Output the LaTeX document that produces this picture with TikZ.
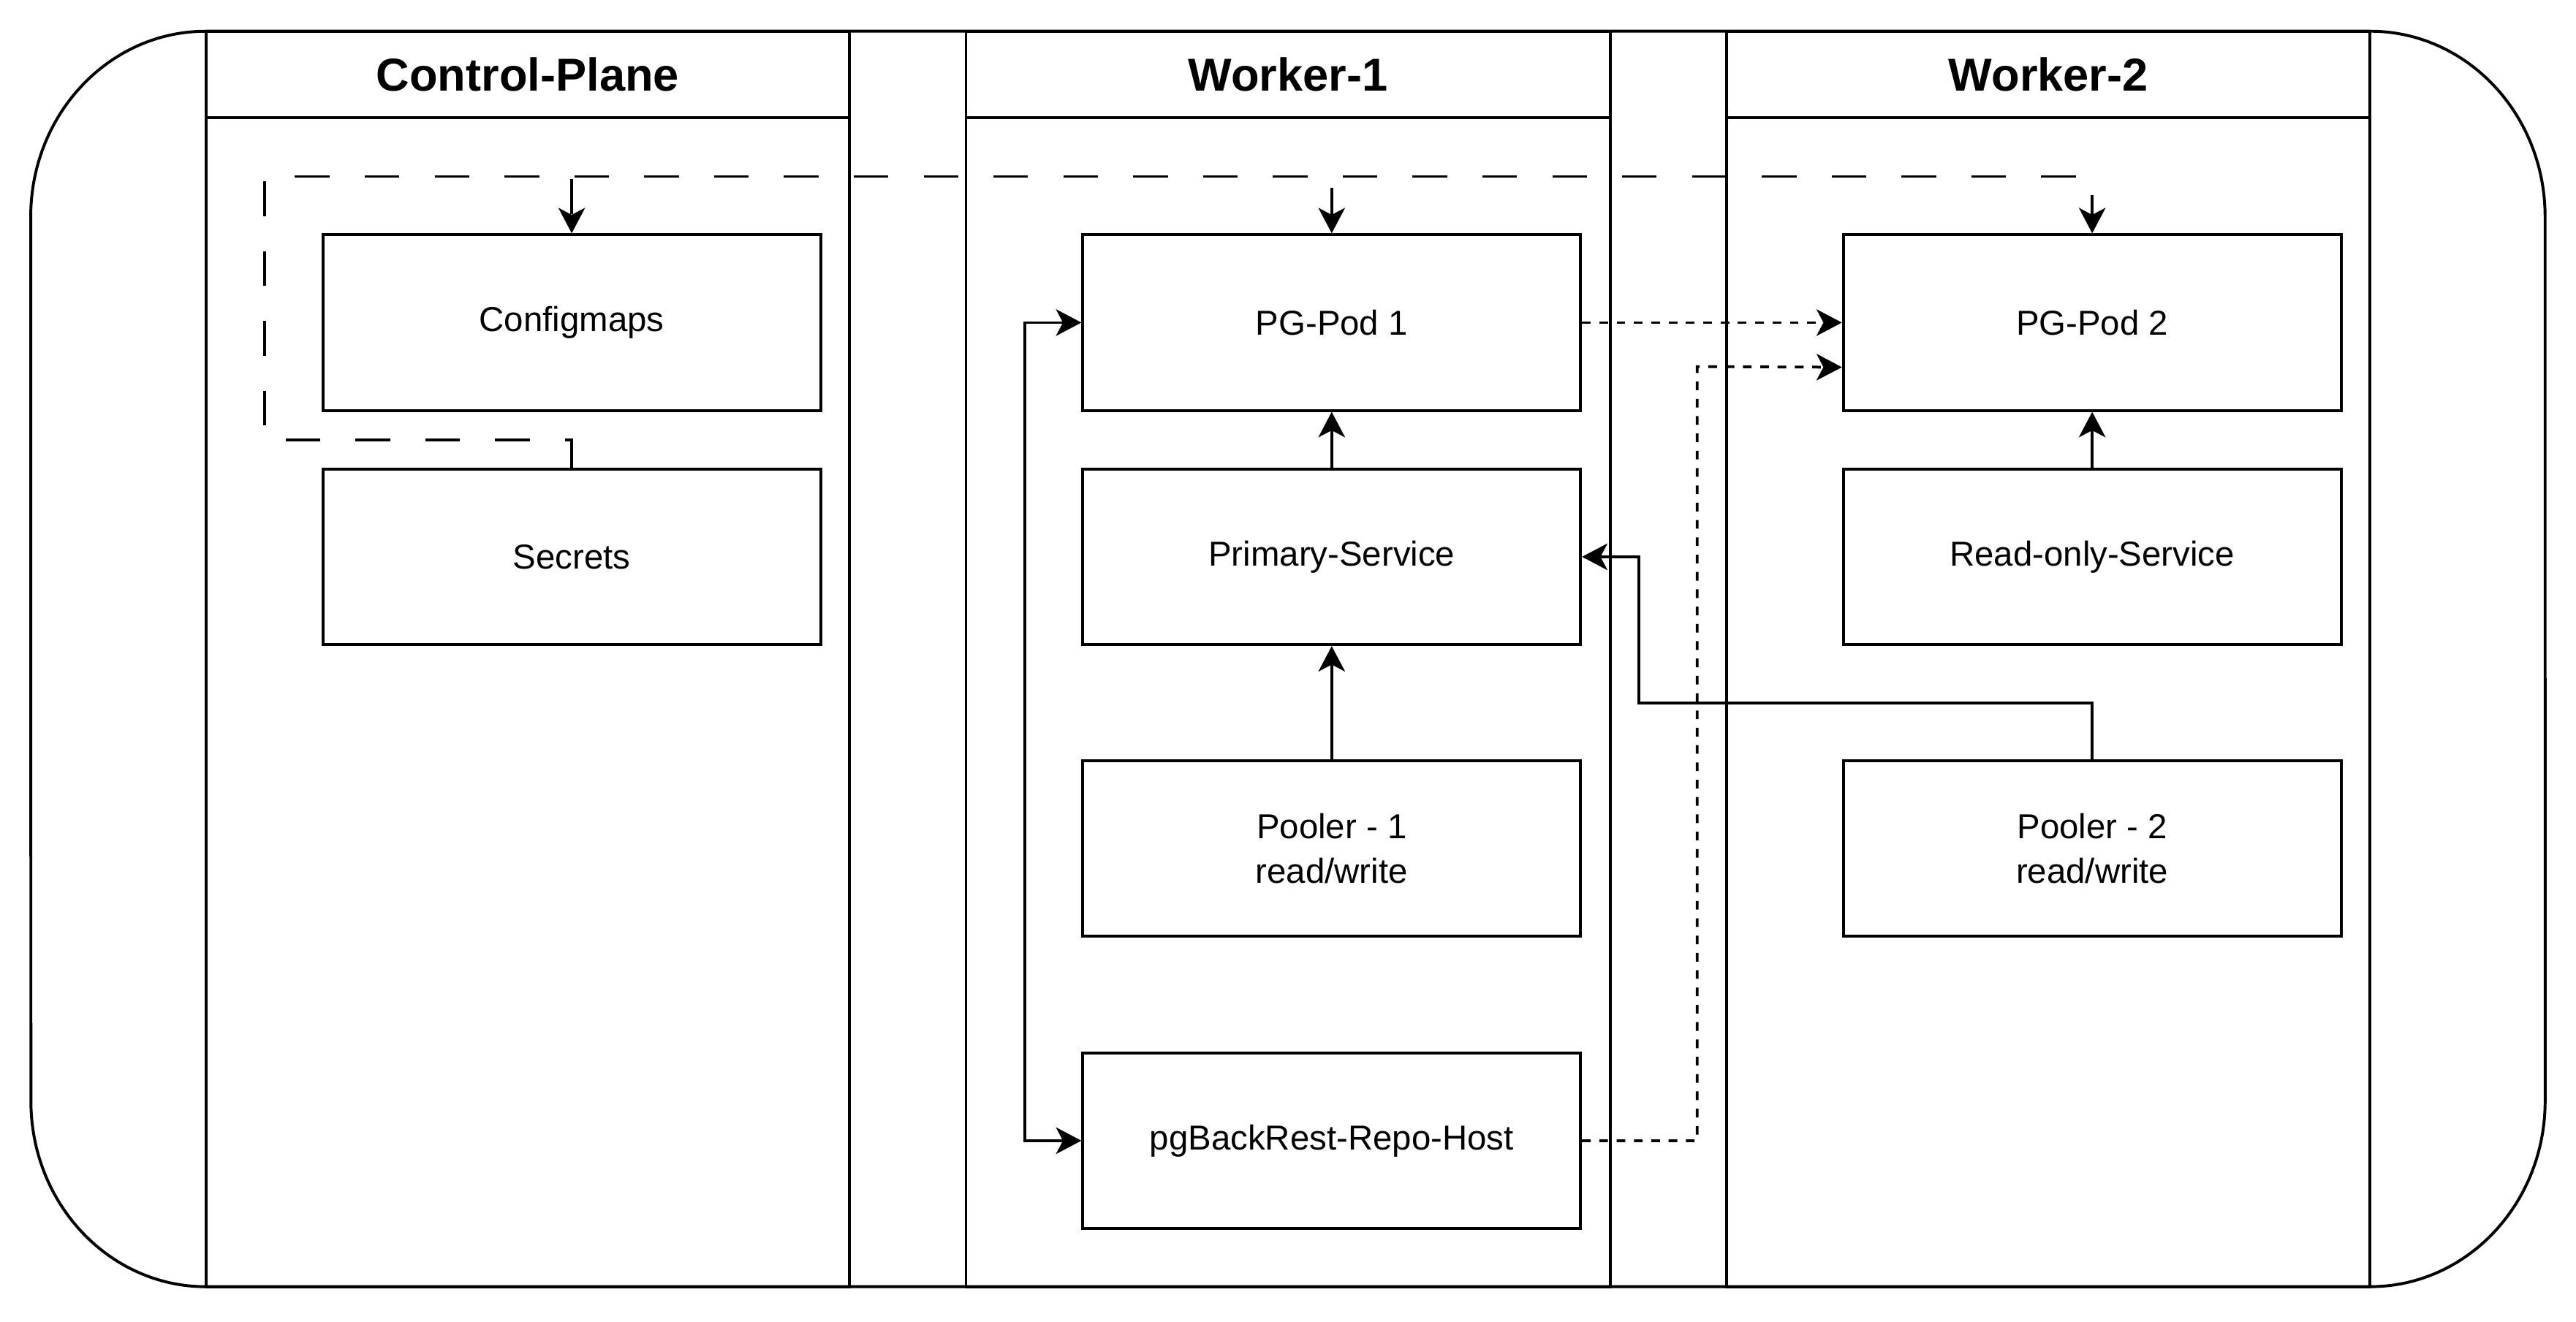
\documentclass[tikz,border=0pt]{standalone}
\usepackage{fontspec}
\setmainfont{Liberation Sans}
\usetikzlibrary{arrows.meta,calc}
\begin{document}
\begin{tikzpicture}[x=0.02cm,y=-0.02cm,font=\fontsize{12}{15.4}\selectfont,line width=1pt,
  box/.style={draw,line width=1pt,minimum width=6.06cm,minimum height=2.14cm,inner sep=0pt,align=center},
  head/.style={font=\fontsize{16}{19}\selectfont\bfseries},
  flow/.style={line width=0.95pt,-{Stealth[length=8.8pt,width=9.2pt,inset=2.4pt]}},
  twoway/.style={line width=0.95pt,{Stealth[length=8.8pt,width=9.2pt,inset=2.4pt]}-{Stealth[length=8.8pt,width=9.2pt,inset=2.4pt]}},
  sync/.style={flow,dash pattern=on 3pt off 3pt},
  share/.style={flow,dash pattern=on 12pt off 12.2pt}]

  \useasboundingbox (0,0) rectangle (1568,804.5);

  \draw (125.3,19) -- (1442.7,19)
    arc[start angle=90,end angle=0,x radius=2.13cm,y radius=2.26cm] -- (1549.2,670.4)
    arc[start angle=0,end angle=-90,x radius=2.13cm,y radius=2.26cm] -- (125.3,783.4)
    arc[start angle=270,end angle=180,x radius=2.13cm,y radius=2.26cm] -- (18.7,132)
    arc[start angle=180,end angle=90,x radius=2.13cm,y radius=2.26cm] -- cycle;

  \foreach \l/\r/\nm/\lab in {125.3/517/cplane/Control-Plane,588/980/wkone/Worker-1,1051/1442.7/wktwo/Worker-2}
    {\draw (\l,19) rectangle (\r,783.4);
     \draw (\l,71.5) -- (\r,71.5);
     \node[head] (\nm) at ({(\l+\r)/2},45.3) {\lab};}

  \node[box] (cfgmaps) at (348,196.4) {Configmaps};
  \node[box] (secrets) at (348,339) {Secrets};
  \node[box] (pod1) at (810.6,196.4) {PG-Pod 1};
  \node[box] (primsvc) at (810.6,339) {Primary-Service};
  \node[box] (pooler1) at (810.6,516.5) {Pooler - 1\\read/write};
  \node[box] (repohost) at (810.6,694.5) {pgBackRest-Repo-Host};
  \node[box] (pod2) at (1273.5,196.4) {PG-Pod 2};
  \node[box] (rosvc) at (1273.5,339) {Read-only-Service};
  \node[box] (pooler2) at (1273.5,516.5) {Pooler - 2\\read/write};

  \coordinate (shareL) at (161,267.7);
  \coordinate (shareT) at (161,107.5);
  \coordinate (backL) at (623.7,694.5);
  \coordinate (syncR) at (1033.1,223.2);
  \coordinate (roR) at (997.4,427.9);
  \coordinate (pod2low) at ($(pod2.west)!0.5!(pod2.south west)$);

  \draw[share] (secrets.north) |- (shareL) -- (shareT) -| (cfgmaps.north);
  \draw[share] (secrets.north) |- (shareL) -- (shareT) -| (pod1.north);
  \draw[share] (secrets.north) |- (shareL) -- (shareT) -| (pod2.north);
  \draw[flow] (primsvc) -- (pod1);
  \draw[flow] (pooler1) -- (primsvc);
  \draw[flow] (rosvc) -- (pod2);
  \draw[flow] (pooler2.north) |- (roR) |- (primsvc.east);
  \draw[twoway] (pod1.west) -| (backL) -- (repohost.west);
  \draw[sync] (pod1) -- (pod2);
  \draw[sync] (repohost.east) -| (syncR) -- (pod2low);
\end{tikzpicture}
\end{document}
